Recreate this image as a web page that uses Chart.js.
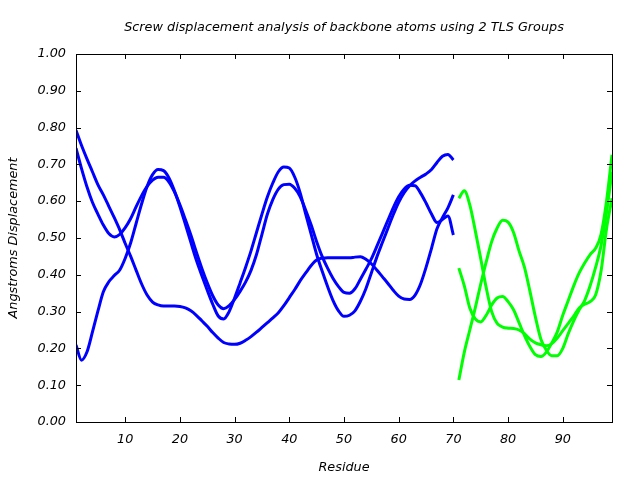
<!DOCTYPE html>
<html>
<head>
<meta charset="utf-8">
<script src="https://cdn.jsdelivr.net/npm/chart.js@4.4.1/dist/chart.umd.min.js"></script>
<style>
html,body{margin:0;padding:0;background:#ffffff;}
#wrap{width:640px;height:480px;}
</style>
</head>
<body>
<div id="wrap"><canvas id="c" width="640" height="480"></canvas></div>
<script>
const chartTitle = "Screw displacement analysis of backbone atoms using 2 TLS Groups";
const xAxisTitle = "Residue";
const yAxisTitle = "Angstroms Displacement";
const xTickValues = [10, 20, 30, 40, 50, 60, 70, 80, 90];
const yTickValues = [0.0, 0.1, 0.2, 0.3, 0.4, 0.5, 0.6, 0.7, 0.8, 0.9, 1.0];

// TLS group 1 (blue): residues 1-70
const group1Residues = [1,2,3,4,5,6,7,8,9,10,11,12,13,14,15,16,17,18,19,20,21,22,23,24,25,26,27,28,29,30,31,32,33,34,35,36,37,38,39,40,41,42,43,44,45,46,47,48,49,50,51,52,53,54,55,56,57,58,59,60,61,62,63,64,65,66,67,68,69,70];
const group1AxisA = [0.744,0.689,0.639,0.597,0.565,0.535,0.512,0.503,0.510,0.528,0.553,0.585,0.615,0.640,0.657,0.665,0.665,0.652,0.625,0.590,0.550,0.508,0.462,0.418,0.378,0.343,0.318,0.308,0.316,0.333,0.355,0.380,0.412,0.455,0.510,0.565,0.605,0.633,0.645,0.646,0.635,0.612,0.575,0.535,0.490,0.450,0.418,0.390,0.368,0.352,0.350,0.362,0.388,0.415,0.443,0.477,0.512,0.547,0.582,0.612,0.633,0.643,0.642,0.622,0.595,0.565,0.542,0.550,0.560,0.508];
const group1AxisB = [0.209,0.168,0.190,0.244,0.301,0.354,0.381,0.398,0.413,0.445,0.487,0.540,0.593,0.640,0.672,0.686,0.683,0.663,0.628,0.585,0.537,0.488,0.440,0.398,0.358,0.320,0.288,0.280,0.300,0.337,0.378,0.420,0.465,0.515,0.565,0.612,0.650,0.680,0.693,0.690,0.665,0.622,0.565,0.510,0.455,0.410,0.368,0.330,0.302,0.287,0.290,0.302,0.328,0.362,0.405,0.448,0.487,0.525,0.563,0.597,0.623,0.642,0.655,0.665,0.674,0.686,0.705,0.722,0.727,0.712];
const group1AxisC = [0.793,0.752,0.715,0.680,0.645,0.617,0.586,0.555,0.522,0.485,0.450,0.412,0.375,0.345,0.326,0.318,0.315,0.315,0.315,0.314,0.310,0.302,0.290,0.275,0.260,0.243,0.228,0.216,0.212,0.211,0.214,0.222,0.232,0.244,0.257,0.270,0.283,0.297,0.316,0.338,0.360,0.384,0.405,0.425,0.440,0.445,0.446,0.446,0.446,0.446,0.446,0.448,0.449,0.442,0.430,0.413,0.395,0.377,0.358,0.342,0.334,0.333,0.345,0.375,0.420,0.472,0.525,0.555,0.582,0.617];

// TLS group 2 (green): residues 71-99
const group2Residues = [71,72,73,74,75,76,77,78,79,80,81,82,83,84,85,86,87,88,89,90,91,92,93,94,95,96,97,98,99];
const group2AxisA = [0.608,0.628,0.590,0.520,0.444,0.365,0.300,0.268,0.258,0.255,0.254,0.250,0.240,0.225,0.215,0.210,0.207,0.213,0.228,0.248,0.268,0.288,0.310,0.320,0.327,0.345,0.410,0.525,0.608];
const group2AxisB = [0.418,0.370,0.310,0.280,0.272,0.290,0.318,0.337,0.341,0.327,0.305,0.270,0.235,0.205,0.183,0.178,0.190,0.215,0.245,0.290,0.330,0.370,0.405,0.432,0.455,0.472,0.510,0.600,0.726];
const group2AxisC = [0.114,0.190,0.250,0.310,0.375,0.435,0.490,0.527,0.548,0.543,0.515,0.465,0.420,0.355,0.285,0.225,0.195,0.180,0.180,0.200,0.240,0.275,0.305,0.330,0.370,0.420,0.480,0.570,0.680];

const blueColor = '#0000ff';
const greenColor = '#00ff00';
const textFont = 'DejaVu Sans';

function toPoints(xs, ys) { return xs.map((x, i) => ({ x: x, y: ys[i] })); }
function lineSet(label, xs, ys, color) {
  return {
    label: label,
    data: toPoints(xs, ys),
    borderColor: color,
    backgroundColor: color,
    borderWidth: 3,
    pointRadius: 0,
    cubicInterpolationMode: 'monotone',
    fill: false
  };
}

const framePlugin = {
  id: 'frame',
  afterLayout(chart) {
    const tb = chart.titleBlock;
    if (tb) {
      tb.left = chart.chartArea.left;
      tb.right = chart.chartArea.right;
      tb.width = tb.right - tb.left;
    }
  },
  afterDatasetsDraw(chart) {
    const { ctx, chartArea: a, scales } = chart;
    const xs = scales.x, ys = scales.y;
    const len = 5;
    ctx.save();
    ctx.strokeStyle = '#000000';
    ctx.lineWidth = 1;
    ctx.beginPath();
    xs.ticks.forEach(t => {
      const px = Math.round(xs.getPixelForValue(t.value)) + 0.5;
      ctx.moveTo(px, a.bottom); ctx.lineTo(px, a.bottom - len);
      ctx.moveTo(px, a.top); ctx.lineTo(px, a.top + len);
    });
    ys.ticks.forEach(t => {
      const py = Math.round(ys.getPixelForValue(t.value)) + 0.5;
      ctx.moveTo(a.left, py); ctx.lineTo(a.left + len, py);
      ctx.moveTo(a.right, py); ctx.lineTo(a.right - len, py);
    });
    ctx.stroke();
    ctx.strokeRect(Math.round(a.left) + 0.5, Math.round(a.top) + 0.5,
                   Math.round(a.right - a.left), Math.round(a.bottom - a.top));
    ctx.restore();
  }
};

const fontSpec = { family: textFont, size: 12.8, style: 'italic', weight: 'normal' };

new Chart(document.getElementById('c'), {
  type: 'line',
  data: {
    datasets: [
      lineSet('Group 1 A', group1Residues, group1AxisA, blueColor),
      lineSet('Group 1 B', group1Residues, group1AxisB, blueColor),
      lineSet('Group 1 C', group1Residues, group1AxisC, blueColor),
      lineSet('Group 2 A', group2Residues, group2AxisA, greenColor),
      lineSet('Group 2 B', group2Residues, group2AxisB, greenColor),
      lineSet('Group 2 C', group2Residues, group2AxisC, greenColor)
    ]
  },
  options: {
    responsive: false,
    devicePixelRatio: 1,
    animation: false,
    layout: { padding: { left: 0, right: 28, top: 0, bottom: 0 } },
    plugins: {
      legend: { display: false },
      tooltip: { enabled: false },
      title: {
        display: true,
        text: chartTitle,
        color: '#000000',
        font: fontSpec,
        padding: { top: 20, bottom: 18.6 }
      }
    },
    scales: {
      x: {
        type: 'linear',
        min: 1,
        max: 99,
        afterBuildTicks: s => { s.ticks = xTickValues.map(v => ({ value: v })); },
        afterFit: s => { s.height = 58; },
        grid: { display: false, drawTicks: false },
        border: { display: false },
        ticks: {
          color: '#000000', font: fontSpec, padding: 10,
          maxRotation: 0, autoSkip: false,
          callback: v => String(v)
        },
        title: {
          display: true, text: xAxisTitle, color: '#000000', font: fontSpec,
          padding: { top: 0, bottom: 5 }
        }
      },
      y: {
        type: 'linear',
        min: 0,
        max: 1,
        afterBuildTicks: s => { s.ticks = yTickValues.map(v => ({ value: v })); },
        afterFit: s => { s.width = 76; },
        grid: { display: false, drawTicks: false },
        border: { display: false },
        ticks: {
          color: '#000000', font: fontSpec, padding: 10,
          callback: v => Number(v).toFixed(2)
        },
        title: {
          display: true, text: yAxisTitle, color: '#000000', font: fontSpec,
          padding: { top: 6, bottom: 0 }
        }
      }
    }
  },
  plugins: [framePlugin]
});
</script>
</body>
</html>
